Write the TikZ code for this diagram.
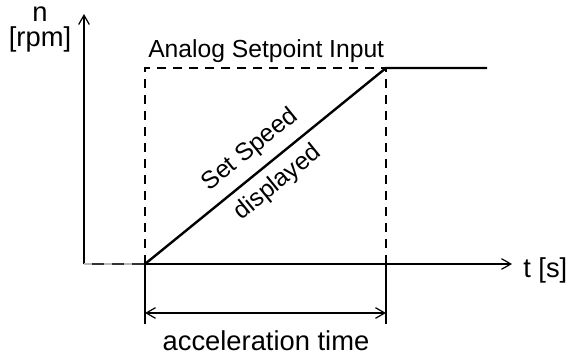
\documentclass[tikz,border=0pt]{standalone}
\usepackage{fontspec}
\setmainfont{Liberation Sans}
\usetikzlibrary{arrows.meta}

\tikzset{
  axis/.style={line width=0.9pt,-{Straight Barb[length=7pt,width=8pt]}},
  guide/.style={line width=0.9pt,dash pattern=on 7pt off 5pt},
  ramp/.style={line width=1.8pt},
  dim/.style={line width=0.9pt,{Straight Barb[length=7pt,width=8pt]}-{Straight Barb[length=7pt,width=8pt]}},
  lbl/.style={inner sep=0pt,font=\fontsize{18.5}{20}\selectfont},
  biglbl/.style={inner sep=0pt,font=\fontsize{20.5}{22}\selectfont}
}

\begin{document}
\begin{tikzpicture}[x=0.75pt,y=-0.75pt]
  \useasboundingbox (0,0) rectangle (568,356);

  \coordinate (o) at (84,264);
  \coordinate (ytop) at (84,14);
  \coordinate (xend) at (512,264);
  \coordinate (start) at (145,264);
  \coordinate (tl) at (145,68);
  \coordinate (corner) at (386,68);
  \coordinate (finish) at (487,68);
  \coordinate (dl) at (145,324);
  \coordinate (dr) at (386,324);
  \coordinate (al) at (145,313);
  \coordinate (ar) at (386,313);

  \node[biglbl,anchor=base] (n) at (40,22) {n};
  \node[biglbl,anchor=base] (rpm) at (40,47) {[rpm]};
  \node[lbl,anchor=base west] (input) at (148,58) {Analog Setpoint Input};
  \node[biglbl,anchor=base west] (t) at (523,277) {t [s]};
  \node[biglbl,anchor=base] (acc) at (266,350) {acceleration time};
  \node[lbl,rotate=39] (set) at (250,150) {Set Speed};
  \node[lbl,rotate=39] (disp) at (278,183) {displayed};

  % axes
  \draw[axis] (o) -- (ytop);
  \draw[axis] (o) -- (xend);
  \draw[line width=2pt,gray!55] (o) -- (start);
  \draw[line width=2pt,black!80,dash pattern=on 9pt off 6pt] ([xshift=6pt]o) -- (start);

  % setpoint
  \draw[guide] (start) -- (tl) -- (corner) -- (start -| corner);
  \draw[ramp] (start) -- (corner) -- (finish);

  % acceleration time
  \draw[line width=0.9pt] (start) -- (dl);
  \draw[line width=0.9pt] (start -| corner) -- (dr);
  \draw[dim] (al) -- (ar);
\end{tikzpicture}
\end{document}
